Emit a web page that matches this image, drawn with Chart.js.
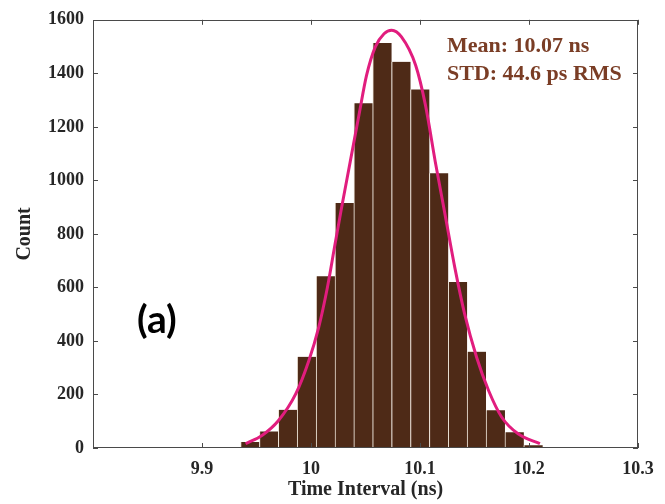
<!DOCTYPE html>
<html><head><meta charset="utf-8">
<script src="https://cdn.jsdelivr.net/npm/chart.js@4/dist/chart.umd.min.js"></script>
<style>html,body{margin:0;padding:0;background:#fff}#wrap{width:665px;height:504px}</style>
</head><body><div id="wrap"><canvas id="c" width="665" height="504"></canvas></div>
<script>
// Histogram bins (ns) and counts
const binCenters = [9.9441, 9.9614, 9.9787, 9.9960, 10.0134, 10.0307, 10.0480, 10.0653, 10.0827, 10.1000, 10.1173, 10.1346, 10.1519, 10.1693, 10.1866, 10.2039];
const counts = [22, 62, 143, 341, 642, 915, 1288, 1513, 1443, 1340, 1027, 620, 360, 141, 59, 10];
// Fitted curve points
const fitX = [9.940, 9.955, 9.970, 9.986, 9.998, 10.007, 10.015, 10.022, 10.028, 10.036, 10.044, 10.051, 10.059, 10.067, 10.074, 10.083, 10.096, 10.105, 10.114, 10.123, 10.132, 10.141, 10.152, 10.163, 10.175, 10.190, 10.210];
const fitY = [16, 47, 102, 202, 326, 450, 599, 760, 897, 1070, 1244, 1393, 1499, 1548, 1561, 1536, 1430, 1281, 1070, 872, 673, 500, 338, 214, 115, 53, 16];
// Tick labels
const xTickValues = [9.9, 10, 10.1, 10.2, 10.3];
const yTickValues = [0, 200, 400, 600, 800, 1000, 1200, 1400, 1600];
const annotationLines = ['Mean: 10.07 ns', 'STD: 44.6 ps RMS'];
const panelLabel = '(a)';

const SERIF = '"Liberation Serif", "DejaVu Serif", serif';

const decor = {
  id: 'decor',
  afterDatasetsDraw(chart) {
    const { ctx, chartArea: a, scales: { x, y } } = chart;
    ctx.save();
    ctx.strokeStyle = '#4a4a4a';
    ctx.lineWidth = 1;
    ctx.strokeRect(Math.round(a.left) + 0.5, Math.round(a.top) + 0.5,
      Math.round(a.right - a.left) - 1, Math.round(a.bottom - a.top) - 1);
    const tl = 5;
    ctx.beginPath();
    xTickValues.forEach(v => {
      const px = Math.round(x.getPixelForValue(v)) + 0.5;
      ctx.moveTo(px, a.bottom); ctx.lineTo(px, a.bottom - tl);
      ctx.moveTo(px, a.top); ctx.lineTo(px, a.top + tl);
    });
    yTickValues.forEach(v => {
      const py = Math.round(y.getPixelForValue(v)) + 0.5;
      ctx.moveTo(a.left, py); ctx.lineTo(a.left + tl, py);
      ctx.moveTo(a.right, py); ctx.lineTo(a.right - tl, py);
    });
    ctx.stroke();
    // annotations
    ctx.fillStyle = '#7a3d25';
    ctx.font = 'bold 22px ' + SERIF;
    ctx.textBaseline = 'alphabetic';
    ctx.textAlign = 'left';
    ctx.fillText(annotationLines[0], 447, 52);
    ctx.fillText(annotationLines[1], 447, 80);
    ctx.fillStyle = '#000';
    ctx.font = 'bold 39px Lato, "Open Sans", sans-serif';
    ctx.fillText(panelLabel, 137, 333);
    ctx.restore();
  }
};

new Chart(document.getElementById('c'), {
  data: {
    datasets: [
      {
        type: 'line',
        data: fitX.map((v, i) => ({ x: v, y: fitY[i] })),
        borderColor: '#e11d7e',
        borderWidth: 3,
        pointRadius: 0,
        tension: 0.4,
        cubicInterpolationMode: 'monotone',
        fill: false,
        order: 0
      },
      {
        type: 'bar',
        data: binCenters.map((v, i) => ({ x: v, y: counts[i] })),
        backgroundColor: '#4e2a17',
        borderColor: '#efe6da',
        borderWidth: { left: 1, right: 0, top: 0, bottom: 0 },
        borderSkipped: false,
        barPercentage: 1,
        categoryPercentage: 1,
        grouped: false,
        order: 1
      }
    ]
  },
  options: {
    responsive: false,
    animation: false,
    devicePixelRatio: 1,
    layout: { padding: { top: 18, right: 27, left: 0, bottom: 0 } },
    plugins: { legend: { display: false }, tooltip: { enabled: false } },
    scales: {
      x: {
        type: 'linear',
        min: 9.8, max: 10.3,
        offset: false,
        grid: { display: false, drawTicks: false },
        border: { display: false },
        afterBuildTicks: s => { s.ticks = xTickValues.map(v => ({ value: v })); },
        afterFit: s => { s.height = 56; },
        ticks: {
          autoSkip: false, maxRotation: 0, padding: 11,
          color: '#262626',
          font: { family: SERIF, size: 18, weight: 'bold' },
          callback: v => String(+v.toFixed(1))
        },
        title: {
          display: true, text: 'Time Interval (ns)', color: '#262626',
          font: { family: SERIF, size: 20, weight: 'bold' },
          padding: { top: 0, bottom: 2 }
        }
      },
      y: {
        min: 0, max: 1600,
        grid: { display: false, drawTicks: false },
        border: { display: false },
        afterBuildTicks: s => { s.ticks = yTickValues.map(v => ({ value: v })); },
        afterFit: s => { s.width = 93; },
        ticks: {
          padding: 9, color: '#262626',
          font: { family: SERIF, size: 18, weight: 'bold' },
          callback: v => String(v)
        },
        title: {
          display: true, text: 'Count', color: '#262626',
          font: { family: SERIF, size: 20, weight: 'bold' },
          padding: { top: 13, bottom: 0 }
        }
      }
    }
  },
  plugins: [decor]
});
</script></body></html>
